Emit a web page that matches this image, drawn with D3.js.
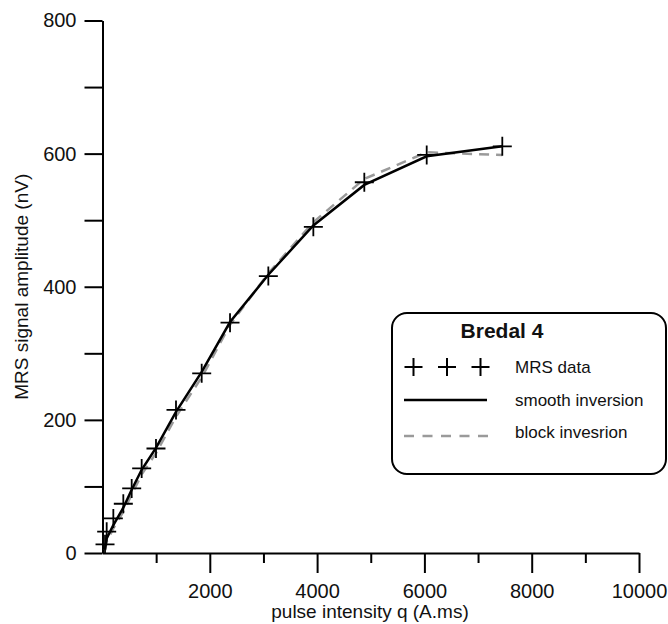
<!DOCTYPE html>
<html>
<head>
<meta charset="utf-8">
<script src="https://cdn.jsdelivr.net/npm/d3@7"></script>
<style>
  body { margin: 0; background: #fff; }
  svg { display: block; font-family: "Liberation Sans", Arial, sans-serif; }
</style>
</head>
<body>
<div id="chart"></div>
<script>
// pulse moments q (A.ms) and measured amplitudes (nV)
const qValues = [47, 78, 202, 388, 544, 730, 997, 1370, 1849, 2377, 3091, 3930, 4880, 6043, 7452];
const mrsData = [13, 32, 52, 74, 97, 127, 157, 215, 270, 346, 416, 490, 557, 598, 611];
// inversion responses at the same pulse moments
const smoothInv = [5, 22, 42, 68, 95, 125, 158, 212, 272, 347, 418, 492, 553, 596, 611];
const blockInv = [4, 17, 37, 62, 88, 118, 150, 205, 264, 343, 420, 497, 562, 602, 598];

const xMajor = [2000, 4000, 6000, 8000, 10000];
const xMinor = [1000, 3000, 5000, 7000, 9000];
const yTicks = [0, 100, 200, 300, 400, 500, 600, 700, 800];

const legendItems = ["MRS data", "smooth inversion", "block invesrion"];

const width = 668,
  height = 624;

const svg = d3
  .select("#chart")
  .append("svg")
  .attr("width", width)
  .attr("height", height);

const x = d3.scaleLinear().domain([0, 10000]).range([102.5, 639]);
const y = d3.scaleLinear().domain([0, 800]).range([553, 20.5]);

// y axis, labels every 200
svg
  .append("g")
  .attr("transform", `translate(${x(0)},0)`)
  .call(
    d3
      .axisLeft(y)
      .tickValues(yTicks)
      .tickSize(18)
      .tickSizeOuter(0)
      .tickPadding(8)
      .tickFormat((d) => (d % 200 === 0 ? d : ""))
  );

// x axis: long major ticks, short minor ticks
svg
  .append("g")
  .attr("transform", `translate(0,${y(0)})`)
  .call(
    d3
      .axisBottom(x)
      .tickValues(xMajor)
      .tickSize(20)
      .tickSizeOuter(0)
      .tickPadding(11)
      .tickFormat(d3.format("d"))
  );

svg
  .append("g")
  .attr("transform", `translate(0,${y(0)})`)
  .call(d3.axisBottom(x).tickValues(xMinor).tickSize(10).tickSizeOuter(0).tickFormat(""))
  .select(".domain")
  .remove();

svg.selectAll(".domain, .tick line").attr("stroke", "#000").attr("stroke-width", 2);
svg.selectAll(".tick text").attr("font-size", 20).attr("fill", "#111");
svg.selectAll("g").attr("font-family", null);

svg
  .append("text")
  .attr("x", 370)
  .attr("y", 618)
  .attr("text-anchor", "middle")
  .attr("font-size", 19)
  .attr("fill", "#111")
  .text("pulse intensity q (A.ms)");

svg
  .append("text")
  .attr("transform", `translate(28,${(y(0) + y(800)) / 2}) rotate(-90)`)
  .attr("text-anchor", "middle")
  .attr("font-size", 19)
  .attr("fill", "#111")
  .text("MRS signal amplitude (nV)");

const pts = qValues.map((q, i) => ({ q, mrs: mrsData[i], sm: smoothInv[i], bl: blockInv[i] }));

// block inversion (dashed gray)
svg
  .append("path")
  .datum(pts)
  .attr("fill", "none")
  .attr("stroke", "#9a9a9a")
  .attr("stroke-width", 2.5)
  .attr("stroke-dasharray", "10,7")
  .attr("d", d3.line().x((d) => x(d.q)).y((d) => y(d.bl)));

// smooth inversion (solid black)
svg
  .append("path")
  .datum(pts)
  .attr("fill", "none")
  .attr("stroke", "#000")
  .attr("stroke-width", 2.5)
  .attr("d", d3.line().x((d) => x(d.q)).y((d) => y(d.sm)));

// data crosses
const plus = (s) => `M${-s},0H${s}M0,${-s}V${s}`;

svg
  .append("g")
  .selectAll("path")
  .data(pts)
  .join("path")
  .attr("transform", (d) => `translate(${x(d.q)},${y(d.mrs)})`)
  .attr("d", plus(9.5))
  .attr("stroke", "#000")
  .attr("stroke-width", 1.8)
  .attr("fill", "none");

// legend
const legend = svg.append("g");
legend
  .append("rect")
  .attr("x", 392)
  .attr("y", 313)
  .attr("width", 274)
  .attr("height", 161)
  .attr("rx", 15)
  .attr("fill", "#fff")
  .attr("stroke", "#000")
  .attr("stroke-width", 2);

legend
  .append("text")
  .attr("x", 502)
  .attr("y", 338)
  .attr("text-anchor", "middle")
  .attr("font-size", 21)
  .attr("font-weight", "bold")
  .attr("fill", "#111")
  .text("Bredal 4");

legend
  .selectAll("path.mk")
  .data([413.5, 447, 480.5])
  .join("path")
  .attr("class", "mk")
  .attr("transform", (d) => `translate(${d},367)`)
  .attr("d", plus(9))
  .attr("stroke", "#000")
  .attr("stroke-width", 2)
  .attr("fill", "none");

legend
  .append("line")
  .attr("x1", 404)
  .attr("x2", 487)
  .attr("y1", 400)
  .attr("y2", 400)
  .attr("stroke", "#000")
  .attr("stroke-width", 2.5);

legend
  .append("line")
  .attr("x1", 404)
  .attr("x2", 488)
  .attr("y1", 436)
  .attr("y2", 436)
  .attr("stroke", "#9a9a9a")
  .attr("stroke-width", 2.5)
  .attr("stroke-dasharray", "10,8.5");

legend
  .selectAll("text.item")
  .data(legendItems)
  .join("text")
  .attr("class", "item")
  .attr("x", 515)
  .attr("y", (d, i) => [373, 406, 438][i])
  .attr("font-size", 17)
  .attr("fill", "#111")
  .text((d) => d);
</script>
</body>
</html>
